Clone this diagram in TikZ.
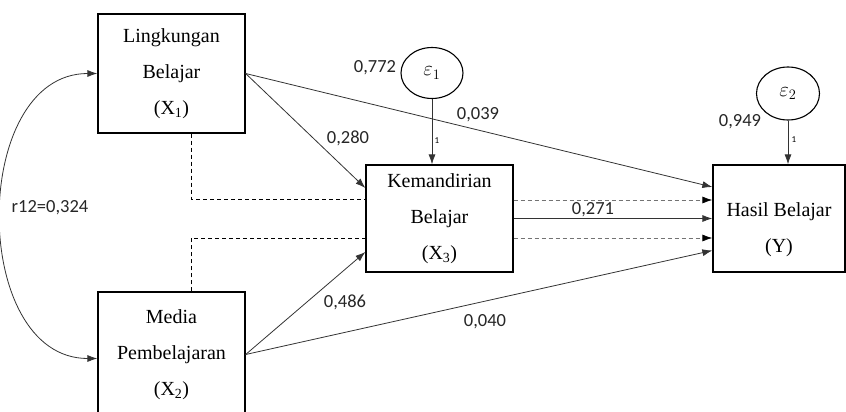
\documentclass[tikz,border=0pt]{standalone}
\usepackage{fontspec}
\setmainfont{Liberation Serif}
\newfontfamily\numfont{Carlito}
\usetikzlibrary{arrows.meta,shapes.geometric}

\begin{document}
\begin{tikzpicture}[x=1pt, y=-1pt,
        varbox/.style={draw=black, line width=1.3pt, align=center, inner sep=0pt,
            font=\fontsize{20}{36}\selectfont},
        errnode/.style={draw=black, line width=1.1pt, ellipse, inner sep=0pt,
            minimum width=62pt, minimum height=51pt, font=\fontsize{22}{24}\selectfont},
        coef/.style={font=\numfont\fontsize{18.5}{22}\selectfont, text=black!85},
        pathline/.style={draw=black!80, line width=0.8pt, -{Latex[length=10pt,width=7pt]}},
        dpathline/.style={draw=black!55, line width=0.8pt, dash pattern=on 4pt off 3pt,
            -{Latex[length=10pt,width=7pt,color=black]}}]
        \useasboundingbox (0,0) rectangle (846,412);

        \node[varbox, minimum width=147pt, minimum height=119pt] (X1) at (171.5, 73.5)
            {Lingkungan\\Belajar\\(X\textsubscript{1})};
        \node[varbox, minimum width=147pt, minimum height=125pt] (X2) at (171.5, 354.5)
            {Media\\Pembelajaran\\(X\textsubscript{2})};
        \node[varbox, minimum width=147pt, minimum height=107pt] (X3) at (439.5, 218.5)
            {Kemandirian\\Belajar\\(X\textsubscript{3})};
        \node[varbox, minimum width=132pt, minimum height=107pt,
            label={[font=\fontsize{20}{36}\selectfont, align=center, yshift=-11pt]center:Hasil Belajar\\(Y)}]
            (Y) at (779, 218.5) {};

        \node[errnode] (E1) at (432, 73) {$\varepsilon_1$};
        \node[errnode, minimum width=63pt, minimum height=53pt] (E2) at (788, 93.5) {$\varepsilon_2$};

        % correlation
        \draw[black!80, line width=0.8pt, {Latex[length=10pt,width=7pt]}-{Latex[length=10pt,width=7pt]}]
            (X1.west) to[out=180, in=180, looseness=1.15] ([yshift=-4pt]X2.west);
        \node[coef] (r12) at (50, 208) {r12=0,324};

        % direct paths
        \draw[pathline] (X1.east) -- ([yshift=30.5pt]X3.west);
        \draw[pathline] (X1.east) -- ([yshift=31.5pt]Y.west);
        \draw[pathline] (X2.east) -- ([yshift=-33.5pt]X3.west);
        \draw[pathline] (X2.east) -- ([yshift=-32pt]Y.west);
        \draw[pathline] (X3.east) -- (Y.west);
        \draw[pathline] (E1.south) -- (X3.north -| E1.south);
        \draw[pathline] (E2.south) -- (Y.north -| E2.south);

        % indirect paths
        \draw[black, line width=0.8pt, dash pattern=on 4pt off 3pt]
            ([xshift=20pt]X1.south) |- ([yshift=19.5pt]X3.west);
        \draw[black, line width=0.8pt, dash pattern=on 4pt off 3pt]
            ([xshift=20pt]X2.north) |- ([yshift=-19.5pt]X3.west);
        \draw[dpathline] ([yshift=18.5pt]X3.east) -- ([yshift=18.5pt]Y.west);
        \draw[dpathline] ([yshift=-19.5pt]X3.east) -- ([yshift=-19.5pt]Y.west);

        % coefficients
        \node[coef] (c772) at (375, 68) {0,772};
        \node[coef] (c949) at (740, 122) {0,949};
        \node[coef] (c039) at (478, 115) {0,039};
        \node[coef] (c280) at (348, 138) {0,280};
        \node[coef] (c271) at (593, 210) {0,271};
        \node[coef] (c486) at (345, 302) {0,486};
        \node[coef] (c040) at (485, 322) {0,040};
        \node[font=\numfont\fontsize{9}{10}\selectfont] (one1) at (437, 141) {1};
        \node[font=\numfont\fontsize{9}{10}\selectfont] (one2) at (794, 140) {1};
\end{tikzpicture}
\end{document}
